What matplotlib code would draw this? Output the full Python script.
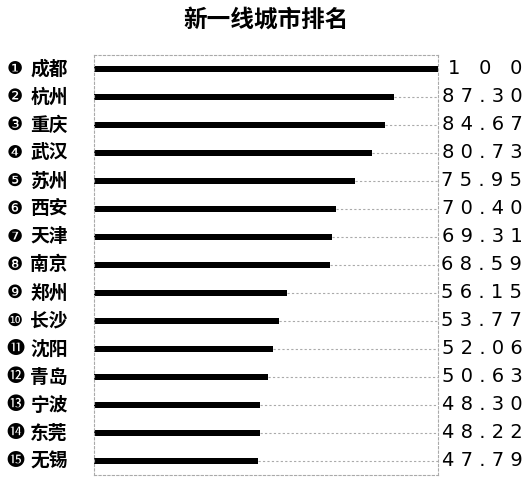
import matplotlib
matplotlib.use("Agg")
import matplotlib.pyplot as plt

cities = ["成都","杭州","重庆","武汉","苏州","西安","天津","南京","郑州","长沙","沈阳","青岛","宁波","东莞","无锡"]
values = [100, 87.30, 84.67, 80.73, 75.95, 70.40, 69.31, 68.59, 56.15, 53.77, 52.06, 50.63, 48.30, 48.22, 47.79]
labels = ["1   0   0","8 7 . 3 0","8 4 . 6 7","8 0 . 7 3","7 5 . 9 5","7 0 . 4 0","6 9 . 3 1","6 8 . 5 9",
          "5 6 . 1 5","5 3 . 7 7","5 2 . 0 6","5 0 . 6 3","4 8 . 3 0","4 8 . 2 2","4 7 . 7 9"]
marks = ["❶","❷","❸","❹","❺","❻","❼","❽","❾","❿","⓫","⓬","⓭","⓮","⓯"]

fam = ['Noto Sans CJK SC', 'DejaVu Sans']
plt.rcParams['font.family'] = fam
W, H = 532, 479
fig = plt.figure(figsize=(W/100, H/100), dpi=100)
ax = fig.add_axes([94/W, 1-475/H, (438-94)/W, (475-55)/H])
n = len(cities)
ys = list(range(n))
ax.set_xlim(0, 100)
ax.set_ylim(n-0.5, -0.5)
for y, v in zip(ys, values):
    ax.plot([v, 100], [y, y], ls=(0, (2, 2)), color='#aaaaaa', lw=0.8)
ax.barh(ys, values, height=0.22, color='black')
for s in ax.spines.values():
    s.set_linestyle((0, (2, 2)))
    s.set_color('#aaaaaa')
    s.set_linewidth(0.8)
ax.set_xticks([]); ax.set_yticks([])
for y, c, m, l in zip(ys, cities, marks, labels):
    ax.text(-0.255, y, m, transform=ax.get_yaxis_transform(), ha='left', va='center', fontsize=13, family=['DejaVu Sans','Noto Sans CJK SC'])
    ax.text(-0.185, y, c, transform=ax.get_yaxis_transform(), ha='left', va='center', fontsize=13.5, fontweight='bold')
    ax.text(1.245, y, l, transform=ax.get_yaxis_transform(), ha='right', va='center', fontsize=14, family=['DejaVu Sans'])
fig.text(0.5, 1-20/H, "新一线城市排名", ha='center', va='center', fontsize=17, fontweight='bold')
fig.savefig("out.png", dpi=100)
